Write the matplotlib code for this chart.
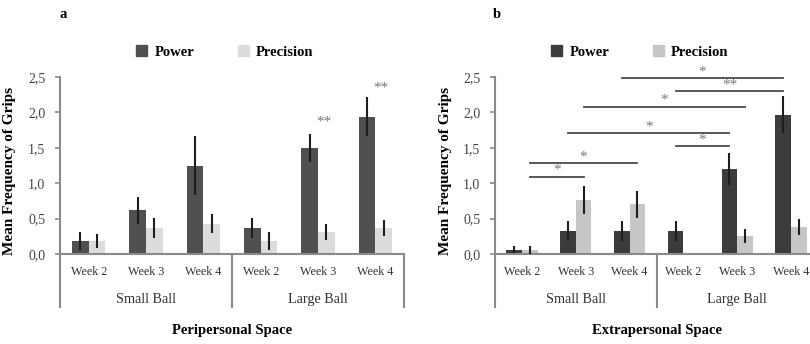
import matplotlib.pyplot as plt
import numpy as np

plt.rcParams['font.family'] = ['Liberation Serif', 'DejaVu Serif']

## data
weeks = ['Week 2', 'Week 3', 'Week 4', 'Week 2', 'Week 3', 'Week 4']
groups = ['Small Ball', 'Large Ball']

# peripersonal space (a)
peri_power = [0.18, 0.62, 1.25, 0.37, 1.50, 1.94]
peri_power_err = [0.13, 0.19, 0.42, 0.14, 0.20, 0.28]
peri_prec = [0.18, 0.37, 0.43, 0.18, 0.31, 0.37]
peri_prec_err = [0.10, 0.14, 0.13, 0.13, 0.11, 0.11]

# extrapersonal space (b)
extra_power = [0.06, 0.32, 0.32, 0.32, 1.20, 1.97]
extra_power_err = [0.05, 0.14, 0.14, 0.14, 0.23, 0.26]
extra_prec = [0.06, 0.76, 0.70, 0.00, 0.26, 0.38]
extra_prec_err = [0.06, 0.20, 0.19, 0.00, 0.10, 0.11]

# significance marks
peri_stars_x = [4, 5]
peri_stars_y = [1.92, 2.41]
peri_stars = ['**', '**']

# (category, series) start/end, height, label ; series 0 = power, 1 = precision
sig_start = [(2, 0), (3, 0), (1, 1), (1, 0), (3, 0), (0, 1), (0, 1)]
sig_end = [(5, 0), (5, 0), (4, 1), (4, 0), (4, 0), (2, 1), (1, 1)]
sig_y = [2.48, 2.30, 2.08, 1.71, 1.52, 1.28, 1.09]
sig_label = ['*', '**', '*', '*', '*', '*', '*']

W = 0.29
STAR_OFF = 0.11  # visual centre of '*' above baseline (data units)


def draw_panel(ax, power, power_err, prec, prec_err, c_pow, c_prec, title):
    x = np.arange(len(weeks))
    ax.bar(x - W/2, power, W, color=c_pow, zorder=2)
    ax.bar(x + W/2, prec, W, color=c_prec, zorder=2)
    ax.errorbar(x - W/2, power, yerr=power_err, fmt='none', ecolor='#1e1e1e',
                elinewidth=1.5, capsize=0, zorder=3)
    ax.errorbar(x + W/2, prec, yerr=prec_err, fmt='none', ecolor='#1e1e1e',
                elinewidth=1.5, capsize=0, zorder=3)

    ax.set_xlim(-0.5, 5.5)
    ax.set_ylim(0, 2.5)
    ax.set_yticks([0, 0.5, 1.0, 1.5, 2.0, 2.5])
    ax.set_yticklabels(['0,0', '0,5', '1,0', '1,5', '2,0', '2,5'])
    ax.set_xticks([])
    for s in ['top', 'right']:
        ax.spines[s].set_visible(False)
    for s in ['left', 'bottom']:
        ax.spines[s].set_color('#8a8a8a')
        ax.spines[s].set_linewidth(1.5)
    ax.tick_params(axis='y', direction='out', length=3.5, width=1.2,
                   color='#8a8a8a', labelsize=10, labelcolor='#444444', pad=7)
    ax.set_ylabel('Mean Frequency of Grips', fontsize=11, fontweight='bold')

    tr = ax.get_xaxis_transform()
    for i, wk in enumerate(weeks):
        ax.text(i, -0.10, wk, transform=tr, ha='center', va='center',
                fontsize=8.7, color='#333333')
    for g, name in enumerate(groups):
        ax.text(g*3 + 1, -0.255, name, transform=tr, ha='center', va='center',
                fontsize=10.2, color='#333333')
    for xd in [-0.5, 2.5, 5.5]:
        ax.plot([xd, xd], [0, -0.30], transform=tr, color='#8a8a8a', lw=1.5,
                clip_on=False)
    ax.text(2.5, -0.43, title, transform=tr, ha='center', va='center',
            fontsize=10.5, fontweight='bold')


fig = plt.figure(figsize=(8.1, 3.44), dpi=100)
ax_a = fig.add_axes([60/810, 90/344, 344/810, 177/344])
ax_b = fig.add_axes([495/810, 90/344, 323/810, 177/344])

draw_panel(ax_a, peri_power, peri_power_err, peri_prec, peri_prec_err,
           '#505050', '#dcdcdc', 'Peripersonal Space')
draw_panel(ax_b, extra_power, extra_power_err, extra_prec, extra_prec_err,
           '#3c3c3c', '#c6c6c6', 'Extrapersonal Space')
ax_a.yaxis.set_label_coords(-0.128, 0.47)
ax_b.yaxis.set_label_coords(-0.133, 0.47)

# stars panel a
for xs, ys, lab in zip(peri_stars_x, peri_stars_y, peri_stars):
    ax_a.text(xs + 0.1, ys - STAR_OFF, lab, ha='center', va='baseline',
              fontsize=11, color='#777777')

# significance bars panel b
for (c0, s0), (c1, s1), y, lab in zip(sig_start, sig_end, sig_y, sig_label):
    x0 = c0 + (W/2 if s0 else -W/2)
    x1 = c1 + (W/2 if s1 else -W/2)
    ax_b.plot([x0, x1], [y, y], color='#4a4a4a', lw=1.3, clip_on=False)
    ax_b.text((x0 + x1)/2, y + 0.15 - STAR_OFF, lab, ha='center', va='baseline',
              fontsize=11, color='#777777', clip_on=False)

# legends
for ax, c_pow, c_prec, xc in [(ax_a, '#505050', '#dcdcdc', 225/810),
                              (ax_b, '#3c3c3c', '#c6c6c6', 640/810)]:
    h1 = plt.Rectangle((0, 0), 1, 1, color=c_pow)
    h2 = plt.Rectangle((0, 0), 1, 1, color=c_prec)
    fig.legend([h1, h2], ['Power', 'Precision'], loc='center',
               bbox_to_anchor=(xc, 292/344), ncol=2, frameon=False,
               prop={'weight': 'bold', 'size': 10.5}, handlelength=0.75,
               handleheight=0.75, handletextpad=0.5, columnspacing=3.0)

fig.text(63/810, 329/344, 'a', fontsize=10.5, fontweight='bold', ha='center', va='center')
fig.text(497/810, 329/344, 'b', fontsize=10.5, fontweight='bold', ha='center', va='center')

fig.savefig('out.png', dpi=100)
